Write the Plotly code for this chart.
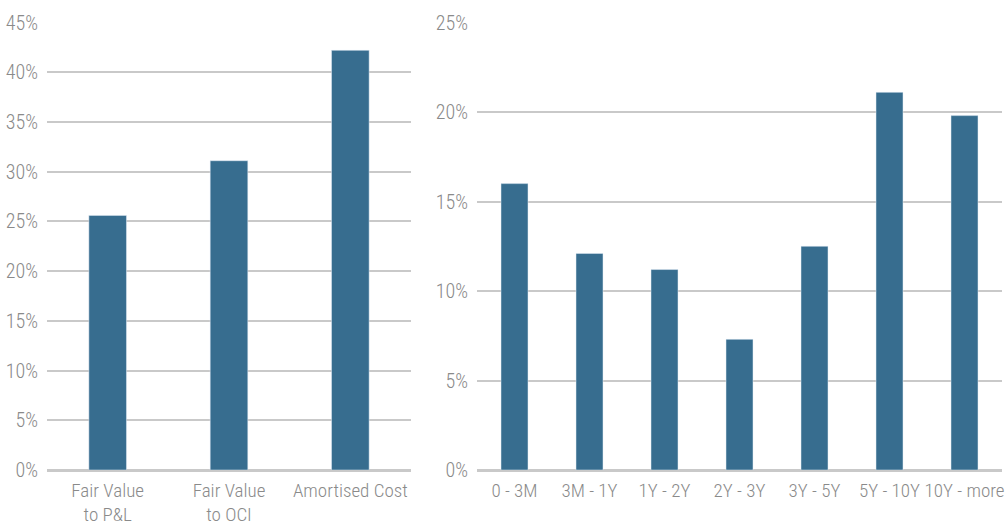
import plotly.graph_objects as go
from plotly.subplots import make_subplots

# Accounting classification of the portfolio
class_labels = ["Fair Value<br>to P&L", "Fair Value<br>to OCI", "Amortised Cost"]
class_share = [25.6, 31.1, 42.2]

# Maturity profile
maturity_labels = ["0 - 3M", "3M - 1Y", "1Y - 2Y", "2Y - 3Y", "3Y - 5Y", "5Y - 10Y", "10Y - more"]
maturity_share = [16.0, 12.1, 11.2, 7.3, 12.5, 21.1, 19.8]

BAR = "#376d8f"
GRID = "#c9c9c9"
TEXT = "#8a8a8a"
FONT = "Roboto Condensed, Roboto, sans-serif"

fig = make_subplots(rows=1, cols=2)

fig.add_trace(go.Bar(x=class_labels, y=class_share, marker_color=BAR,
                     width=0.31, showlegend=False), row=1, col=1)
fig.add_trace(go.Bar(x=maturity_labels, y=maturity_share, marker_color=BAR,
                     width=0.36, showlegend=False), row=1, col=2)

W, H = 1005, 527
y_dom = [(H - 470) / H, (H - 22) / H]

y_font = dict(family=FONT, size=20, color=TEXT, weight=300)
x_font = dict(family=FONT, size=19, color=TEXT, weight=300)

fig.update_layout(
    width=W, height=H,
    margin=dict(l=0, r=0, t=0, b=0),
    paper_bgcolor="white", plot_bgcolor="white",
    font=y_font,
    xaxis=dict(domain=[47 / W, 411 / W]),
    xaxis2=dict(domain=[477 / W, 1002 / W]),
    yaxis=dict(domain=y_dom, range=[0, 45.05], dtick=5, ticksuffix="%"),
    yaxis2=dict(domain=y_dom, range=[0, 25.03], dtick=5, ticksuffix="%"),
)

fig.update_xaxes(showgrid=False, showline=True, linecolor=GRID, linewidth=1.5,
                 ticks="", tickfont=x_font, tickangle=0, automargin=False,
                 ticklabelstandoff=2)
fig.update_yaxes(showgrid=True, gridcolor=GRID, gridwidth=1.5, zeroline=True,
                 zerolinecolor=GRID, zerolinewidth=1.5, showline=False,
                 ticks="", tickfont=y_font, automargin=False,
                 ticklabelstandoff=8)

fig.write_html("out.html")
